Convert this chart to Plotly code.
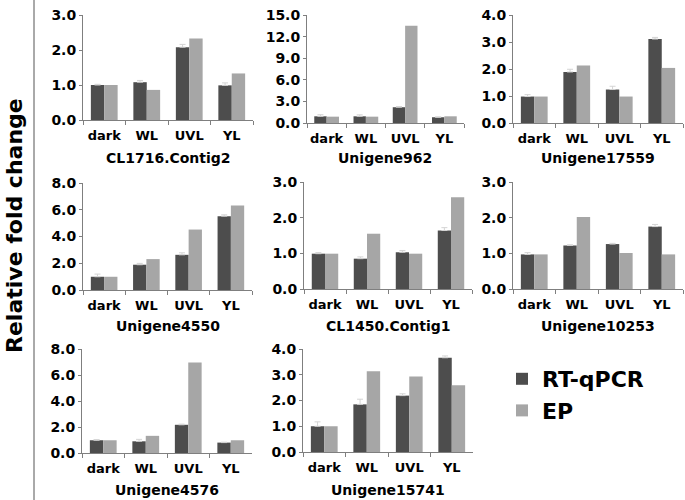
import plotly.graph_objects as go

categories = ["dark", "WL", "UVL", "YL"]
genes = ["CL1716.Contig2", "Unigene962", "Unigene17559",
         "Unigene4550", "CL1450.Contig1", "Unigene10253",
         "Unigene4576", "Unigene15741"]

rtqpcr = [
    [1.00, 1.08, 2.08, 0.99],
    [0.93, 0.93, 2.19, 0.80],
    [0.98, 1.89, 1.24, 3.11],
    [0.99, 1.89, 2.63, 5.52],
    [0.99, 0.85, 1.03, 1.64],
    [0.97, 1.22, 1.26, 1.75],
    [0.98, 0.90, 2.17, 0.80],
    [1.00, 1.85, 2.19, 3.66],
]
rtqpcr_err = [
    [0.02, 0.05, 0.08, 0.07],
    [0.22, 0.20, 0.10, 0.05],
    [0.07, 0.10, 0.12, 0.06],
    [0.20, 0.10, 0.15, 0.10],
    [0.03, 0.05, 0.05, 0.08],
    [0.05, 0.02, 0.02, 0.06],
    [0.05, 0.15, 0.05, 0.03],
    [0.17, 0.20, 0.07, 0.07],
]
ep = [
    [1.00, 0.86, 2.33, 1.33],
    [0.88, 0.88, 13.50, 0.93],
    [0.98, 2.13, 0.98, 2.04],
    [0.99, 2.31, 4.52, 6.31],
    [0.99, 1.55, 0.99, 2.57],
    [0.97, 2.02, 1.01, 0.97],
    [0.98, 1.32, 6.97, 0.98],
    [1.00, 3.14, 2.93, 2.59],
]
y_max = [3.0, 15.0, 4.0, 8.0, 3.0, 3.0, 8.0, 4.0]
y_step = [1.0, 3.0, 1.0, 2.0, 1.0, 1.0, 2.0, 1.0]

W, H = 685, 500
# panel pixel boxes: (x0, x1, ytop, ybottom)
boxes = [
    (83, 253, 15, 120), (307, 464, 15, 123), (513, 683, 15, 123),
    (83, 252, 183, 290), (304, 472, 182, 289), (513, 683, 182, 289),
    (82, 252, 349, 453), (303, 473, 349, 452),
]
title_y = [158, 158, 158, 326, 326, 326, 490, 490]

DARK = "#4d4d4d"
LIGHT = "#a6a6a6"
AXC = "#7f7f7f"
FONT = "DejaVu Sans"

fig = go.Figure()
annotations = []
for i, g in enumerate(genes):
    k = "" if i == 0 else str(i + 1)
    x0, x1, yt, yb = boxes[i]
    fig.add_trace(go.Bar(
        x=categories, y=rtqpcr[i], name="RT-qPCR", marker_color=DARK,
        marker_line_width=0, xaxis="x" + k, yaxis="y" + k,
        showlegend=(i == 0), legendgroup="rt",
        error_y=dict(type="data", array=rtqpcr_err[i], symmetric=False,
                     arrayminus=[0] * 4, color="#d4d4d4", thickness=1, width=3),
    ))
    fig.add_trace(go.Bar(
        x=categories, y=ep[i], name="EP", marker_color=LIGHT,
        marker_line_width=0, xaxis="x" + k, yaxis="y" + k,
        showlegend=(i == 0), legendgroup="ep",
    ))
    fig.layout["xaxis" + k] = dict(
        domain=[x0 / W, x1 / W], anchor="y" + k, showline=True, linecolor=AXC,
        linewidth=1, ticks="outside", tickson="boundaries", ticklen=4,
        tickcolor=AXC, showgrid=False, zeroline=False, tickangle=0,
        automargin=False, ticklabelstandoff=3,
        tickfont=dict(family=FONT, size=13, color="black", weight="bold"),
        fixedrange=True,
    )
    ticks = []
    v = 0.0
    while v <= y_max[i] + 1e-9:
        ticks.append(round(v, 6))
        v += y_step[i]
    fig.layout["yaxis" + k] = dict(
        domain=[1 - yb / H, 1 - yt / H], anchor="x" + k, range=[0, y_max[i]],
        tickvals=ticks, ticktext=["%.1f" % t for t in ticks],
        showline=True, linecolor=AXC, linewidth=1, ticks="outside", ticklen=3,
        tickcolor=AXC, showgrid=False, zeroline=False, automargin=False,
        tickfont=dict(family=FONT, size=14, color="black", weight="bold"),
        fixedrange=True,
    )
    annotations.append(dict(
        text="<b>%s</b>" % g, x=(x0 + x1) / 2 / W, y=1 - title_y[i] / H,
        xref="paper", yref="paper", showarrow=False, xanchor="center",
        yanchor="middle", font=dict(family=FONT, size=14, color="black"),
    ))

annotations.append(dict(
    text="<b>Relative fold change</b>", x=15 / W, y=1 - 226 / H,
    xref="paper", yref="paper", showarrow=False, textangle=-90,
    xanchor="center", yanchor="middle",
    font=dict(family=FONT, size=22, color="black"),
))

fig.update_layout(
    template="none",
    width=W, height=H, margin=dict(l=0, r=0, t=0, b=0, autoexpand=False),
    paper_bgcolor="white", plot_bgcolor="white",
    barmode="group", bargap=0.37, bargroupgap=0,
    annotations=annotations,
    shapes=[dict(type="line", xref="paper", yref="paper",
                 x0=34 / W, x1=34 / W, y0=0, y1=1,
                 line=dict(color="#555555", width=1))],
    legend=dict(x=502 / W, y=1 - 358 / H, xanchor="left", yanchor="top",
                font=dict(family=FONT, size=22, color="black", weight="bold"),
                bgcolor="rgba(0,0,0,0)", tracegroupgap=0),
    showlegend=True,
)

fig.write_html("out.html",
               config={"displayModeBar": False},
               post_script="document.body.style.margin='0';"
                           "document.body.style.overflow='hidden';")
